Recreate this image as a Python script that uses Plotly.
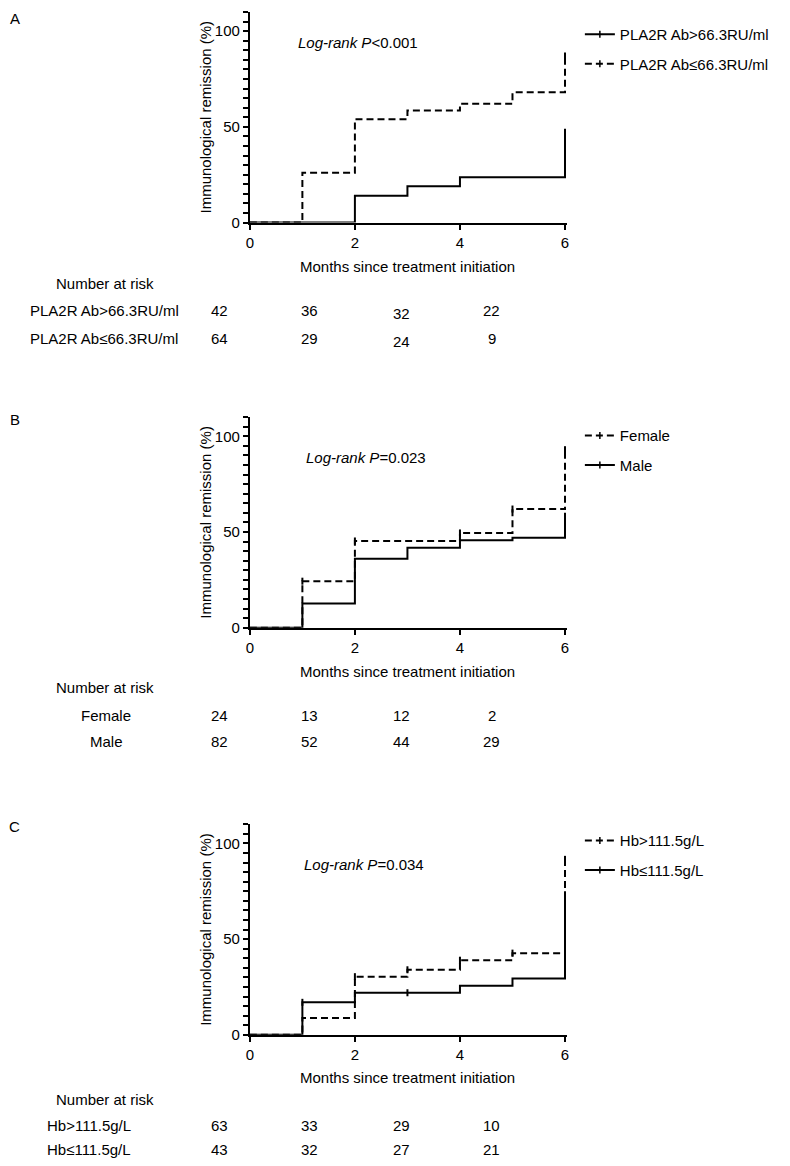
import plotly.graph_objects as go

W, H = 790, 1166
OFF = 8  # default page body margin
FW, FH = W - OFF, H - OFF

# ---------------- data ----------------
# Panel A
a_high_t = [0, 2, 3, 4, 6]
a_high_v = [0, 14, 19, 23.6, 49]
a_low_t = [0, 1, 2, 3, 4, 5, 6]
a_low_v = [0, 26, 54, 58.5, 62, 68, 87]
a_names = ["PLA2R Ab>66.3RU/ml", "PLA2R Ab≤66.3RU/ml"]
a_risk = [[42, 36, 32, 22], [64, 29, 24, 9]]
a_p = "<i>Log-rank P</i><0.001"

# Panel B
b_fem_t = [0, 1, 2, 4, 5, 6]
b_fem_v = [0, 24.3, 45.3, 49.5, 62, 93]
b_male_t = [0, 1, 2, 3, 4, 5, 6]
b_male_v = [0, 12.7, 36, 41.8, 45.7, 47, 60]
b_names = ["Female", "Male"]
b_risk = [[24, 13, 12, 2], [82, 52, 44, 29]]
b_p = "<i>Log-rank P</i>=0.023"

# Panel C
c_high_t = [0, 1, 2, 3, 4, 5, 6]
c_high_v = [0, 8.8, 30.4, 34, 39, 42.7, 91.7]
c_low_t = [0, 1, 2, 4, 5, 6]
c_low_v = [0, 17, 22, 25.7, 29.5, 75]
c_names = ["Hb>111.5g/L", "Hb≤111.5g/L"]
c_risk = [[63, 33, 29, 10], [43, 32, 27, 21]]
c_p = "<i>Log-rank P</i>=0.034"

x_ticks = [0, 2, 4, 6]
y_ticks = [0, 50, 100]

FONT = "Liberation Sans, Arial, sans-serif"
FS = 15
DASH = "7px,4px"


def px(x):
    return (x - OFF) / FW


def py(y):
    return 1 - (y - OFF) / FH


fig = go.Figure()

X0, X6 = 248, 566
x_max = 6.03
x_right = X0 + (X6 - X0) / 6 * x_max

panels = [
    dict(bot=224, top=12, letter="A", letter_y=8, leg_top=18, p_xy=(295, 43),
         xt_y=268, nar_y=285, rows_y=(313, 341), label_x=101,
         curves=[(a_high_t, a_high_v, a_names[0], "solid", []),
                 (a_low_t, a_low_v, a_names[1], DASH, [(6, 87)])],
         risk=a_risk, names=a_names, p=a_p),
    dict(bot=632, top=420, letter="B", letter_y=412, leg_top=422, p_xy=(303, 461),
         xt_y=676, nar_y=692, rows_y=(720, 747), label_x=103,
         curves=[(b_fem_t, b_fem_v, b_names[0], DASH, [(1, 24.3), (2, 45.3), (4, 49.5), (5, 62), (6, 93)]),
                 (b_male_t, b_male_v, b_names[1], "solid", [])],
         risk=b_risk, names=b_names, p=b_p),
    dict(bot=1042, top=830, letter="C", letter_y=822, leg_top=830, p_xy=(301, 870),
         xt_y=1085, nar_y=1107, rows_y=(1133, 1157), label_x=86,
         curves=[(c_high_t, c_high_v, c_names[0], DASH, [(2, 30.4), (3, 34), (4, 39), (5, 42.7), (6, 91.7)]),
                 (c_low_t, c_low_v, c_names[1], "solid", [(1, 17), (3, 22)])],
         risk=c_risk, names=c_names, p=c_p),
]

risk_x = [217, 308, 401, 492]
annotations = []

for i, p in enumerate(panels):
    k = "" if i == 0 else str(i + 1)
    xa, ya = "x" + k, "y" + k
    leg = "legend" + k
    for (t, v, name, dash, cens) in p["curves"]:
        fig.add_trace(go.Scatter(
            x=t, y=v, mode="lines", line=dict(shape="hv", color="black", width=2, dash=dash),
            name=name, xaxis=xa, yaxis=ya, showlegend=False, hoverinfo="skip"))
        if cens:
            fig.add_trace(go.Scatter(
                x=[c[0] for c in cens], y=[c[1] for c in cens], mode="markers",
                marker=dict(symbol="line-ns", size=5, line=dict(color="black", width=2)),
                xaxis=xa, yaxis=ya, showlegend=False, hoverinfo="skip", cliponaxis=False))
    for (t, v, name, dash, cens) in p["curves"]:
        fig.add_trace(go.Scatter(
            x=[None], y=[None], mode="lines+markers",
            line=dict(color="black", width=2, dash=dash),
            marker=dict(symbol="line-ns", size=5, line=dict(color="black", width=1.5)),
            name=name, xaxis=xa, yaxis=ya, legend=leg, legendgroup=name + k, showlegend=True))

    dom_y = [py(p["bot"]), py(p["top"])]
    axis_common = dict(showline=True, linecolor="black", linewidth=2, ticks="outside",
                       tickcolor="black", tickwidth=2, ticklen=5, showgrid=False, zeroline=False,
                       tickfont=dict(family=FONT, size=FS, color="black"))
    fig.layout["xaxis" + k] = dict(domain=[px(X0), px(x_right)], range=[0, x_max], anchor=ya,
                                   tickvals=x_ticks, ticktext=[str(v) for v in x_ticks], **axis_common)
    fig.layout["yaxis" + k] = dict(domain=dom_y, range=[0, 110], anchor=xa,
                                   tickvals=y_ticks, ticktext=[str(v) for v in y_ticks],
                                   minor=dict(dtick=5, tick0=0, ticks="outside", ticklen=5,
                                              tickcolor="black", tickwidth=1.5, showgrid=False),
                                   **axis_common)
    fig.layout[leg] = dict(x=px(581), y=py(p["leg_top"]), xanchor="left", yanchor="top",
                           font=dict(family=FONT, size=FS, color="black"), bgcolor="rgba(0,0,0,0)",
                           tracegroupgap=7, itemwidth=30)

    mid_y = (p["bot"] + p["top"]) / 2
    annotations += [
        dict(text=p["letter"], x=px(11), y=py(p["letter_y"]), xanchor="center", yanchor="top"),
        dict(text="Immunological remission (%)", x=px(203), y=py(mid_y), textangle=-90,
             xanchor="center", yanchor="middle"),
        dict(text="Months since treatment initiation", x=px((X0 + X6) / 2), y=py(p["xt_y"]),
             xanchor="center", yanchor="middle"),
        dict(text=p["p"], x=px(p["p_xy"][0]), y=py(p["p_xy"][1]), xanchor="left", yanchor="middle"),
        dict(text="Number at risk", x=px(102), y=py(p["nar_y"]), xanchor="center", yanchor="middle"),
    ]
    for r in range(2):
        annotations.append(dict(text=p["names"][r], x=px(p["label_x"]), y=py(p["rows_y"][r]),
                                xanchor="center", yanchor="middle"))
        for j, n in enumerate(p["risk"][r]):
            dy = 3 if j == 2 and i == 0 else 0
            annotations.append(dict(text=str(n), x=px(risk_x[j]), y=py(p["rows_y"][r] + dy),
                                    xanchor="center", yanchor="middle"))

for a in annotations:
    a.update(xref="paper", yref="paper", showarrow=False,
             font=dict(family=FONT, size=FS, color="black"))

fig.update_layout(width=FW, height=FH, margin=dict(l=0, r=0, t=0, b=0),
                  paper_bgcolor="white", plot_bgcolor="white", annotations=annotations)

fig.write_html("out.html")
